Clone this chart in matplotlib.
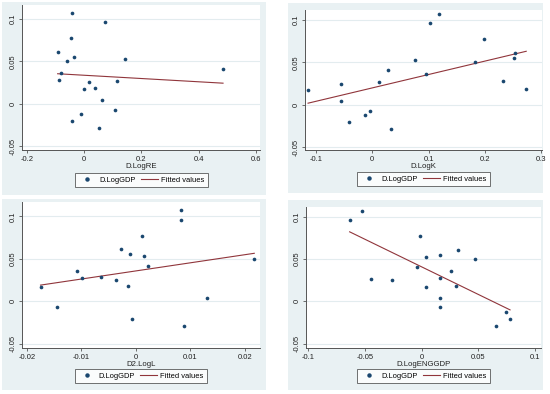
import numpy as np
import matplotlib
matplotlib.use('Agg')
import matplotlib.pyplot as plt
from matplotlib.patches import Rectangle
from matplotlib.lines import Line2D

plt.rcParams['font.family'] = ['Liberation Sans', 'DejaVu Sans']

# D.LogGDP (shared y)
y_gdp = [0.107, 0.096, 0.077, 0.061, 0.055, 0.053, 0.050, 0.041, 0.036, 0.028,
         0.027, 0.025, 0.018, 0.017, 0.004, -0.007, -0.012, -0.021, -0.029]
# D.LogRE
x_re = [-0.043, 0.074, -0.045, -0.092, -0.035, 0.144, -0.059, 0.485, -0.079, -0.087,
        0.115, 0.019, 0.038, 0.001, 0.061, 0.109, -0.012, -0.042, 0.054]
# D.LogK
x_k = [0.118, 0.103, 0.199, 0.253, 0.252, 0.076, 0.182, 0.028, 0.095, 0.232,
       0.012, -0.055, 0.273, -0.114, -0.055, -0.004, -0.013, -0.041, 0.033]
# D2.LogL (one obs less)
y_gdp_l = [0.107, 0.096, 0.077, 0.061, 0.055, 0.053, 0.050, 0.041, 0.036, 0.028,
           0.027, 0.025, 0.018, 0.017, 0.004, -0.007, -0.021, -0.029]
x_l = [0.0082, 0.0082, 0.0011, -0.0027, -0.0011, 0.0015, 0.0217, 0.0023, -0.0109, -0.0065,
       -0.0099, -0.0037, -0.0015, -0.0175, 0.0130, -0.0145, -0.0007, 0.0088]
# D.LogENGGDP
x_eng = [-0.053, -0.0635, -0.001, 0.032, 0.016, 0.004, 0.047, -0.0044, 0.026, 0.016,
         -0.045, -0.026, 0.030, 0.0035, 0.016, 0.016, 0.074, 0.078, 0.066]

y_ticks = [-0.05, 0, 0.05, 0.1]
y_ticklabels = ['-0.05', '0', '0.05', '0.1']

W, H = 550, 394
BG = '#e9f1f3'
NAVY = '#1a476f'
MAROON = '#90353b'

fig = plt.figure(figsize=(W / 100, H / 100), dpi=100, facecolor='white')

def fx(px):
    return px / W

def fy(py):
    return 1 - py / H

panels = [
    dict(bg=(2, 2, 266, 195), ax=(22, 5, 260, 150), x=x_re, y=y_gdp,
         xlim=(-0.2164, 0.614), ylim=(-0.0547, 0.1165),
         xt=[-0.2, 0, 0.2, 0.4, 0.6], xtl=['-0.2', '0', '0.2', '0.4', '0.6'],
         xl='D.LogRE', leg=(141.5, 180)),
    dict(bg=(288, 3, 543, 193), ax=(305, 10, 542, 150), x=x_k, y=y_gdp,
         xlim=(-0.1194, 0.301), ylim=(-0.0535, 0.1118),
         xt=[-0.1, 0, 0.1, 0.2, 0.3], xtl=['-0.1', '0', '0.1', '0.2', '0.3'],
         xl='D.LogK', leg=(423.5, 179)),
    dict(bg=(2, 199, 266, 390), ax=(22, 202, 260, 348), x=x_l, y=y_gdp_l,
         xlim=(-0.0209, 0.02275), ylim=(-0.0551, 0.1168),
         xt=[-0.02, -0.01, 0, 0.01, 0.02], xtl=['-0.02', '-0.01', '0', '0.01', '0.02'],
         xl='D2.LogL', leg=(141, 376)),
    dict(bg=(288, 200, 543, 390), ax=(306, 207, 541, 348), x=x_eng, y=y_gdp,
         xlim=(-0.102, 0.1053), ylim=(-0.0552, 0.1118),
         xt=[-0.1, -0.05, 0, 0.05, 0.1], xtl=['-0.1', '-0.05', '0', '0.05', '0.1'],
         xl='D.LogENGGDP', leg=(423.5, 376)),
]

for p in panels:
    l, t, r, b = p['bg']
    fig.patches.append(Rectangle((fx(l), fy(b)), fx(r) - fx(l), fy(t) - fy(b),
                                 transform=fig.transFigure, facecolor=BG,
                                 edgecolor='none', zorder=-5))
    l, t, r, b = p['ax']
    ax = fig.add_axes([fx(l), fy(b), fx(r) - fx(l), fy(t) - fy(b)])
    ax.set_zorder(1)
    ax.set_facecolor('white')
    x = np.array(p['x'])
    y = np.array(p['y'])
    ax.scatter(x, y, s=7, color=NAVY, zorder=3, linewidths=0)
    k, c = np.polyfit(x, y, 1)
    xs = np.array([x.min(), x.max()])
    ax.plot(xs, k * xs + c, color=MAROON, lw=0.8, zorder=2)
    ax.set_xlim(p['xlim'])
    ax.set_ylim(p['ylim'])
    ax.set_xticks(p['xt'])
    ax.set_xticklabels(p['xtl'])
    ax.set_yticks(y_ticks)
    ax.set_yticklabels(y_ticklabels, rotation=90, va='center')
    ax.grid(axis='y', color='#e3ecef', lw=0.8)
    ax.set_axisbelow(True)
    for s in ['top', 'right']:
        ax.spines[s].set_visible(False)
    for s in ['left', 'bottom']:
        ax.spines[s].set_color('#555555')
        ax.spines[s].set_linewidth(0.7)
    ax.tick_params(labelsize=5.5, length=2.5, width=0.6, color='#555555',
                   labelcolor='#222222', pad=1.5)
    ax.set_xlabel(p['xl'], fontsize=5.6, color='#222222', labelpad=0.5)
    handles = [Line2D([], [], marker='o', ls='none', color=NAVY, markersize=2.2),
               Line2D([], [], color=MAROON, lw=0.8)]
    lx, ly = p['leg']
    leg = fig.legend(handles, ['D.LogGDP', 'Fitted values'], ncol=2, loc='center',
                     bbox_to_anchor=(fx(lx), fy(ly)), fontsize=5.4, frameon=True,
                     fancybox=False, handlelength=2.3, columnspacing=0.7,
                     handletextpad=0.4, borderpad=0.45, borderaxespad=0)
    leg.set_zorder(2)
    leg.get_frame().set_edgecolor('#333333')
    leg.get_frame().set_linewidth(0.6)

fig.savefig('out.png', dpi=100, facecolor='white')
